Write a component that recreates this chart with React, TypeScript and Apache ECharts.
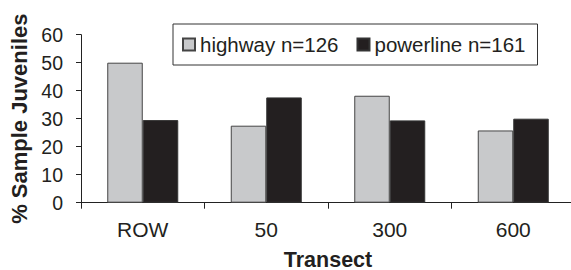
import React, { useEffect, useRef } from "react";
import * as echarts from "echarts";

const categories = ["ROW", "50", "300", "600"];
const highway = [50, 27.5, 38.2, 25.8];
const powerline = [29.5, 37.6, 29.4, 30];
const seriesNames = ["highway n=126", "powerline n=161"];
const yTitle = "% Sample Juveniles";
const xTitle = "Transect";

export default function App() {
  const ref = useRef<HTMLDivElement>(null);
  useEffect(() => {
    if (!ref.current) return;
    const chart = echarts.init(ref.current, undefined, { renderer: "svg" });
    const txt = "#231f20";
    const font = "Liberation Sans";
    chart.setOption({
      animation: false,
      backgroundColor: "#ffffff",
      textStyle: { fontFamily: font, color: txt },
      legend: {
        left: 173,
        top: 24,
        padding: [10, 12, 10, 9],
        itemGap: 18,
        itemWidth: 12,
        itemHeight: 12,
        borderColor: "#333",
        borderWidth: 1,
        textStyle: { fontFamily: font, fontSize: 20.5, color: txt, lineHeight: 18 },
        data: seriesNames.map((n) => ({ name: n, icon: "rect" })),
      },
      grid: {
        left: 81,
        right: -4,
        top: 34.7,
        bottom: 67.3,
        containLabel: false,
        outerBoundsMode: "none",
      },
      xAxis: {
        type: "category",
        data: categories,
        name: xTitle,
        nameLocation: "middle",
        nameGap: 49.5,
        nameTextStyle: {
          fontFamily: font,
          fontSize: 21.5,
          fontWeight: "bold",
          color: txt,
          lineHeight: 16,
        },
        axisLine: { lineStyle: { color: "#222", width: 1 } },
        axisTick: { show: true, length: 6, lineStyle: { color: "#222" } },
        axisLabel: { fontFamily: font, fontSize: 21, color: txt, margin: 16 },
        splitLine: { show: false },
      },
      yAxis: {
        type: "value",
        min: 0,
        max: 60,
        interval: 10,
        name: yTitle,
        nameLocation: "middle",
        nameGap: 50,
        nameRotate: 90,
        nameTextStyle: { fontFamily: font, fontSize: 22, fontWeight: "bold", color: txt },
        axisLine: { show: true, lineStyle: { color: "#222", width: 1 } },
        axisTick: { show: true, length: 5, lineStyle: { color: "#222" } },
        axisLabel: { fontFamily: font, fontSize: 19.5, color: txt, margin: 18 },
        splitLine: { show: false },
      },
      series: [
        {
          name: seriesNames[0],
          type: "bar",
          data: highway,
          barWidth: 35.5,
          barGap: "0%",
          itemStyle: { color: "#c8c9cb", borderColor: "#444", borderWidth: 1 },
        },
        {
          name: seriesNames[1],
          type: "bar",
          data: powerline,
          barWidth: 35.5,
          barGap: "0%",
          itemStyle: { color: "#231f20", borderColor: "#333", borderWidth: 1 },
        },
      ],
    });
    return () => chart.dispose();
  }, []);
  return (
    <div
      ref={ref}
      style={{ position: "fixed", left: 0, top: 0, width: 571, height: 270, background: "#fff" }}
    />
  );
}
